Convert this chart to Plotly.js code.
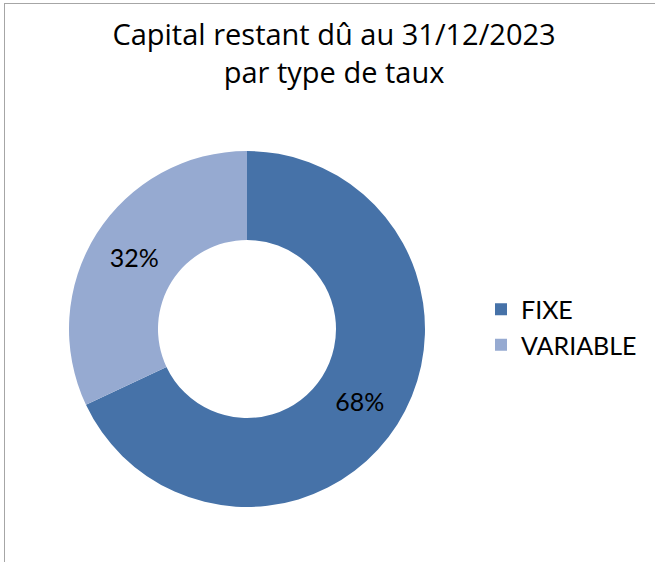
<!DOCTYPE html>
<html>
<head>
<meta charset="utf-8">
<script src="https://cdn.plot.ly/plotly-3.0.1.min.js"></script>
<style>
html,body{margin:0;padding:0;background:#fff;overflow:hidden;}
#chart{width:655px;height:562px;}
#frame{position:absolute;left:4px;top:3px;width:700px;height:620px;border:1px solid #a6a6a6;pointer-events:none;box-sizing:border-box;}
</style>
</head>
<body>
<div id="chart"></div>
<div id="frame"></div>
<script>
const categories = ["FIXE", "VARIABLE"];
const shares = [68, 32];
const sliceColors = ["#4672A8", "#96AAD1"];
const chartTitle = "Capital restant dû au 31/12/2023<br>par type de taux";

const FONT = "Lato, 'Noto Sans', sans-serif";
const TITLE_FONT = "'Open Sans', Lato, sans-serif";

const trace = {
  type: "pie",
  labels: categories,
  values: shares,
  hole: 0.5,
  sort: false,
  direction: "clockwise",
  rotation: 0,
  marker: {colors: sliceColors, line: {width: 0}},
  textinfo: "percent",
  texttemplate: "%{percent:.0%}",
  textposition: "inside",
  insidetextorientation: "horizontal",
  textfont: {family: FONT, size: 25, color: "#000"},
  hoverinfo: "label+percent",
  domain: {x: [69/655, 425/655], y: [1 - 507/562, 1 - 151/562]}
};

const layout = {
  width: 655,
  height: 562,
  margin: {l: 0, r: 0, t: 0, b: 0},
  paper_bgcolor: "#fff",
  showlegend: true,
  font: {family: FONT, color: "#000"},
  title: {
    text: chartTitle,
    font: {family: TITLE_FONT, size: 29, color: "#000"},
    x: 0.51, xanchor: "center",
    y: 1 - 45/562, yanchor: "top",
    yref: "container"
  },
  legend: {
    x: 481/655, xanchor: "left",
    y: 1 - 327/562, yanchor: "middle",
    font: {family: FONT, size: 25, color: "#000"},
    itemwidth: 30,
    tracegroupgap: 0,
    bgcolor: "rgba(0,0,0,0)"
  }
};

Plotly.newPlot("chart", [trace], layout, {displayModeBar: false, staticPlot: true});
</script>
</body>
</html>
